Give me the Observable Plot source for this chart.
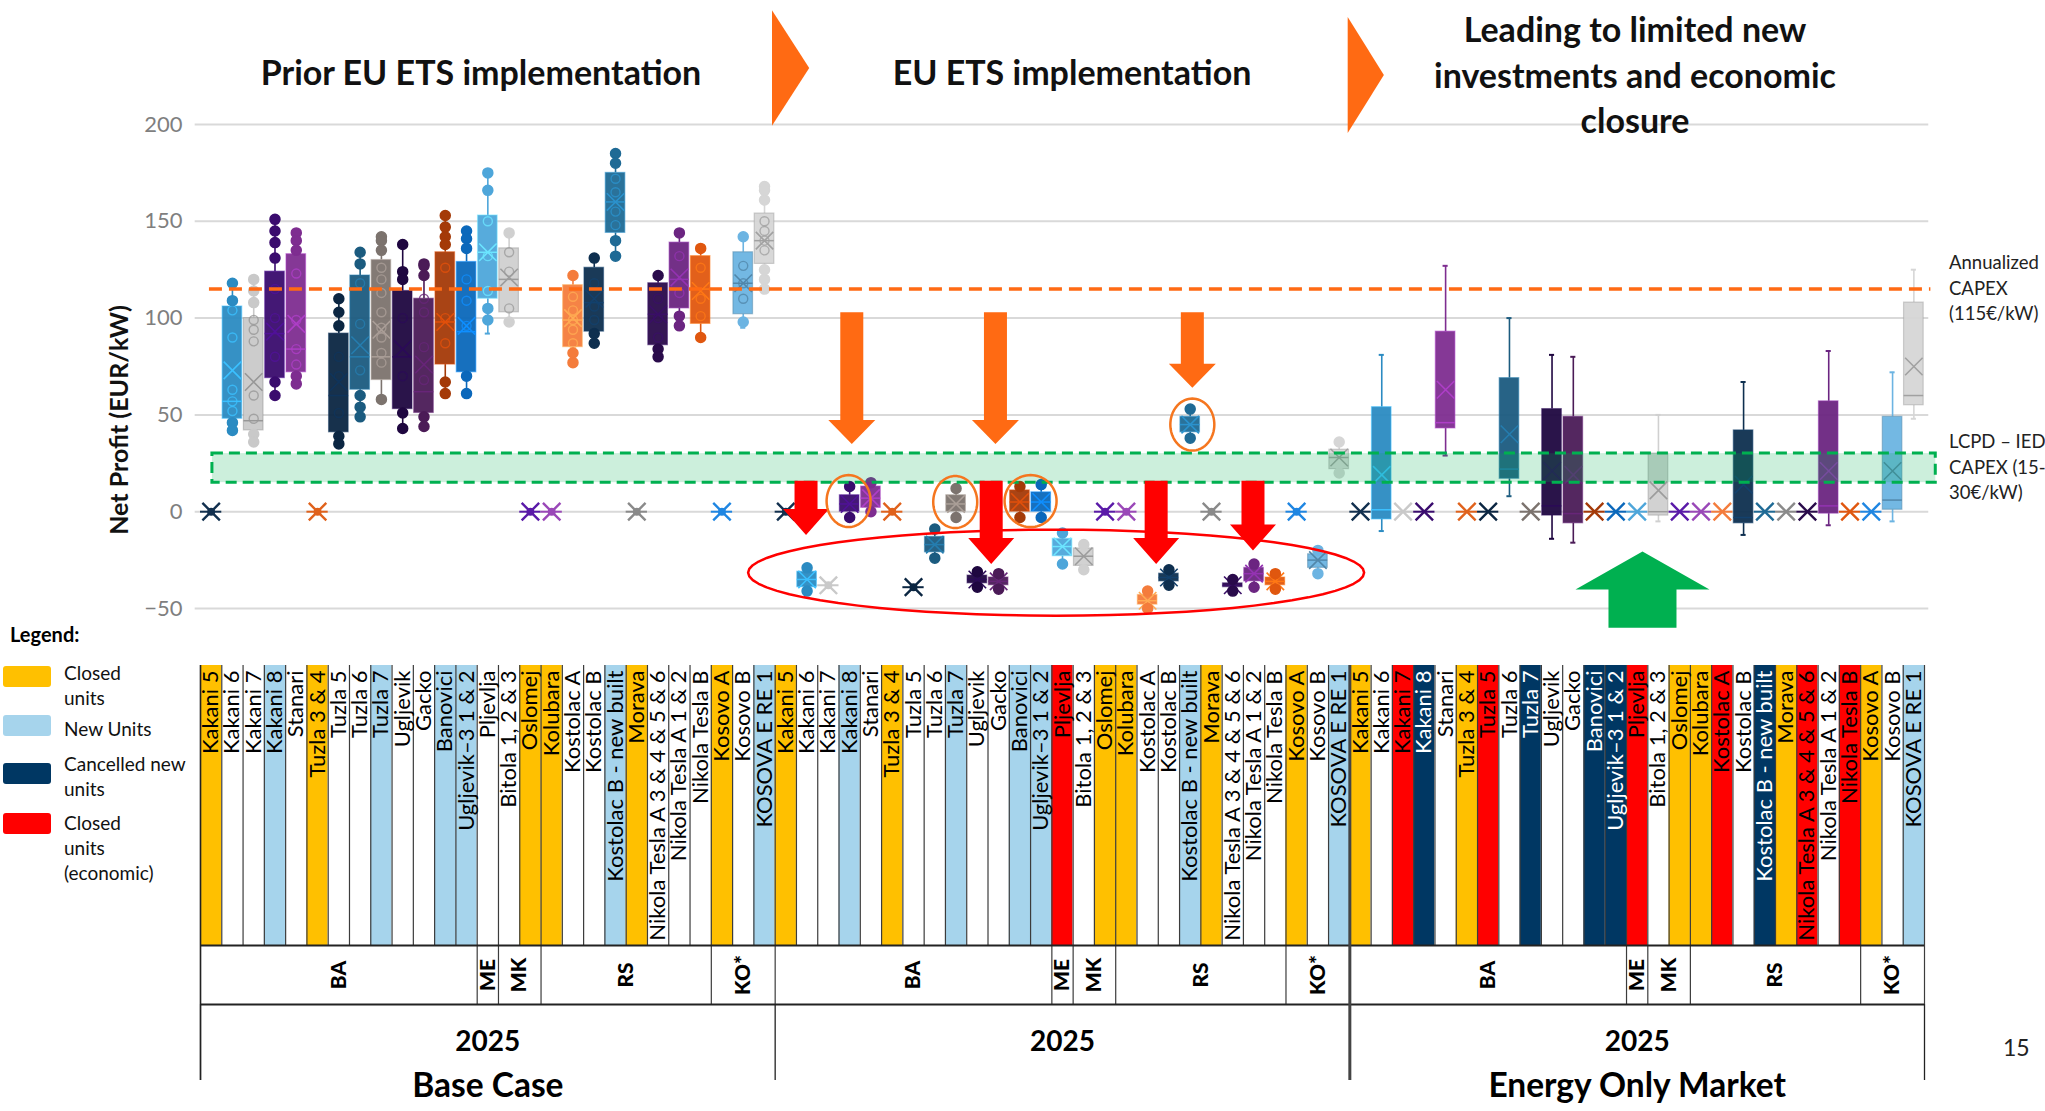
<!DOCTYPE html>
<html><head><meta charset="utf-8">
<script src="https://cdn.jsdelivr.net/npm/d3@7"></script>
<script src="https://cdn.jsdelivr.net/npm/@observablehq/plot@0.6"></script>
<style>
body{margin:0;background:#fff;}
#root{position:relative;width:2045px;height:1111px;overflow:hidden;font-family:Lato,"Open Sans",sans-serif;color:#000;background:#fff;}
.abs{position:absolute;white-space:nowrap;}
#root svg{position:absolute;left:0;}
g[aria-label="country"] text{letter-spacing:6px;}
</style></head><body><div id="root"></div>
<script>
// ---------------- DATA ----------------
const units = ["Kakani 5","Kakani 6","Kakani 7","Kakani 8","Stanari","Tuzla 3 & 4","Tuzla 5","Tuzla 6","Tuzla 7","Ugljevik","Gacko","Banovici","Ugljevik–3 1 & 2","Pljevlja","Bitola 1, 2 & 3","Oslomej","Kolubara","Kostolac A","Kostolac B","Kostolac B - new built","Morava","Nikola Tesla A 3 & 4 & 5 & 6","Nikola Tesla A 1 & 2","Nikola Tesla B","Kosovo A","Kosovo B","KOSOVA E RE 1"];
const unitColors = ["#12304f","#2b8bc2","#c9c9c9","#3a0c6e","#7e2d90","#e0621c","#0b2642","#1b5b7f","#7c736e","#1f0740","#4b1b57","#a43a08","#0b68bb","#4ea6da","#d0d0d0","#5a1aa8","#9a48b8","#f47c3c","#0e2f4f","#1f6a95","#8a8a8a","#2a0b4b","#6b2581","#e0570f","#1f86e2","#6cb4e2","#d6d6d6"];
const countries = ["BA","ME","MK","RS","KO*"];
const countrySpans = [13,1,2,8,3];
const statusBase = ["C","-","-","N","-","C","-","-","N","-","-","N","N","-","-","C","C","-","-","N","C","-","-","-","C","-","N"];
const statusEts  = ["C","-","-","N","-","C","-","-","N","-","-","N","N","E","-","C","C","-","-","N","C","-","-","-","C","-","N"];
const statusEom  = ["C","-","E","X","-","C","E","-","X","-","-","X","X","E","-","C","C","E","-","X","C","E","-","E","C","-","N"];
const statusNames = {C:["Closed","units"], N:["New Units"], X:["Cancelled new","units"], E:["Closed","units","(economic)"]};
const statusColors = {C:"#ffc000", N:"#a6d4ec", X:"#003763", E:"#ff0000", "-":"#ffffff"};
const panelHeaders = [["Prior EU ETS implementation"],["EU ETS implementation"],["Leading to limited new","investments and economic","closure"]];
const panelYears = ["2025","2025","2025"];
const scenarioNames = ["Base Case","","Energy Only Market"];
const yTicks = [-50,0,50,100,150,200];
const annualizedCapex = 115;
const iedBand = [15,30];
// box stats per unit: [min, q1, median, q3, max, mean]; a plain number = all years at that value
const basePanel = [0,[42,48,57,106,118,73],[36,42,47,100,120,67],[60,69,92,124,151,93],[66,72,84,133,144,97],0,[35,41,60,92,110,67],[49,63,80,122,134,86],[58,68,80,130,142,94],[43,53,80,114,138,84],[44,51,62,110,128,76],[61,76,98,134,153,98],[61,72,93,129,145,96],[92,110,134,153,175,134],[98,103,120,136,144,121],0,0,[77,85,99,117,122,100],[86,93,108,126,131,110],[132,144,160,175,183,160],0,[80,86,102,118,122,102],[96,105,120,139,144,121],[90,97,115,132,136,114],0,[95,102,118,134,142,118],[115,128,140,154,168,140]];
const basePoints = [[],[118,109,104,90,63,57,52,46,42],[120,114,108,99,94,88,60,48,40,36],[151,145,139,131,115,100,80,67,60],[144,140,135,123,99,84,76,70,66],[],[110,103,96,80,70,51,39,35],[134,128,118,97,73,60,54,49],[142,140,135,126,120,113,103,95,90,82,77,58],[138,124,120,100,70,51,43],[128,127,122,110,103,85,68,49,44],[153,147,142,138,126,100,87,67,61],[145,141,136,120,109,96,70,61],[175,166,150,132,114,105,99],[144,134,124,105,98],[],[],[122,111,104,99,94,87,82,77],[131,118,106,99,92,87],[185,180,172,165,155,148,140,132],[],[122,110,100,90,84,80],[144,132,113,101,96],[136,126,110,101,90],[],[142,127,118,110,98],[168,166,161,150,145,140,135,125,120,115]];
const etsPanel = [0,[-41,-39,-35,-31,-29,-35],-38,[-3,0,4,8.5,13,4],[0,2,7,13,15,7],0,-39,[-24,-21,-17,-13,-9,-17],[-3,0,4,8.5,12,4],[-39,-37,-35,-33,-31,-35],[-40,-38,-36,-34,-32,-36],[-3,0,5,11,13,5],[-3,0,5,10,14,5],[-27,-23,-18,-14,-11,-18],[-30,-28,-23,-19,-17,-23],0,0,[-50,-48,-46,-43,-41,-46],[-38,-36,-34,-32,-30,-34],[38,41,45,49,53,45],0,[-41,-39,-38,-37,-35,-38],[-39,-36,-32,-29,-27,-32],[-40,-38,-36,-34,-32,-36],0,[-32,-29,-25,-22,-20,-25],[20,22,28,32,36,28]];
const eomPanel = [0,[-10,-4,1,54,81,19],0,0,[29,43,46,93,127,63],0,0,[8,17,22,69,100,40],0,[-14,-2,3,53,81,21],[-16,-6,-1,49,80,19],0,0,0,[-5,-2,0,30,50,11],0,0,0,[-12,-6,-3,42,67,14],0,0,0,[-7,-1,3,57,83,21],0,0,[-5,1,6,49,72,21],[48,55,60,108,125,75]];
// annotations (x in unit columns across the three panels, y in EUR/kW)
const orangeArrows = [{x:30.6,top:103,tip:35},{x:37.35,top:103,tip:35},{x:46.6,top:103,tip:64}];
const redArrows = [{x:28.45,top:16,tip:-12},{x:37.15,top:16,tip:-27},{x:44.9,top:16,tip:-27},{x:49.45,top:16,tip:-20}];
const greenArrows = [{x:67.75,top:-60,tip:-20.6}];
const orangeRings = [{x:30.45,y:5.5,rx:22,ry:26},{x:35.46,y:5,rx:22,ry:26},{x:39.0,y:5.5,rx:26,ry:26},{x:46.6,y:45,rx:22,ry:26}];
const redRings = [{x:40.2,y:-31.5,rx:308,ry:43}];
const chevrons = [{x0:26.85,x1:28.6,top:259,bottom:199.4},{x0:53.9,x1:55.6,top:255.5,bottom:195.6}];

// ---------------- BUILD ----------------
const root = document.getElementById("root");
const colPx = 1724/81, valPx = 484/250;
const hw = 0.46;
function inner(c){ const h = d3.hsl(c); return h.l > 0.6 ? d3.color(c).darker(0.8).formatHex() : d3.color(c).brighter(0.9).formatHex(); }

const panels = [basePanel, etsPanel, eomPanel];
const boxes = [], markers = [], filledPts = [], hollowPts = [];
panels.forEach((pan, p) => pan.forEach((v, i) => {
  const x = 27*p + i + 0.5, color = unitColors[i];
  if (Array.isArray(v)) {
    const b = {p, i, x, color, min:v[0], q1:v[1], med:v[2], q3:v[3], max:v[4], mean:v[5]};
    boxes.push(b);
    if (p === 0) basePoints[i].forEach(y => (y > b.q3 || y < b.q1 ? filledPts : hollowPts).push({x, y, color}));
    if (p === 1) { filledPts.push({x, y:b.min, color}); filledPts.push({x, y:b.max, color}); }
  } else markers.push({p, i, x, color, v});
}));

function arrowPoly(id, a, sH, hH, hHeight){
  const dir = a.tip < a.top ? -1 : 1;
  const neck = a.tip - dir*hHeight;
  return [[a.x-sH,a.top],[a.x+sH,a.top],[a.x+sH,neck],[a.x+hH,neck],[a.x,a.tip],[a.x-hH,neck],[a.x-sH,neck]].map(([x,y])=>({id,x,y}));
}
const orangePolys = orangeArrows.flatMap((a,k)=>arrowPoly("o"+k,a,11.5/colPx,23.5/colPx,24/valPx));
const redPolys = redArrows.flatMap((a,k)=>arrowPoly("r"+k,a,11.5/colPx,23/colPx,26/valPx));
const greenPolys = greenArrows.flatMap((a,k)=>arrowPoly("g"+k,a,34/colPx,67/colPx,38/valPx));
const chevPolys = chevrons.flatMap((c,k)=>[[c.x0,c.top],[c.x1,(c.top+c.bottom)/2],[c.x0,c.bottom]].map(([x,y])=>({id:"c"+k,x,y})));
function ring(id, e){ return d3.range(73).map(k=>{const t=k/72*2*Math.PI; return {id, x:e.x+e.rx/colPx*Math.cos(t), y:e.y+e.ry/valPx*Math.sin(t)};}); }
const orangeRingPts = orangeRings.flatMap((e,k)=>ring("or"+k,e));
const redRingPts = redRings.flatMap((e,k)=>ring("rr"+k,e));

const main = Plot.plot({
  width:2045, height:650,
  marginLeft:200, marginRight:121, marginTop:124, marginBottom:42,
  x:{domain:[0,81], range:[200,1924], axis:null},
  y:{domain:[-50,200], range:[608,124]},
  color:{type:"identity"},
  style:{fontFamily:"Lato, sans-serif", color:"#7f7f7f", background:"transparent", overflow:"visible"},
  marks:[
    Plot.ruleY(yTicks,{x1:-0.25,x2:81.2,stroke:"#d9d9d9",strokeWidth:2}),
    Plot.axisY(yTicks,{tickSize:0,tickPadding:18,fontSize:22,label:null,fill:"#7f7f7f"}),
    // whiskers
    Plot.ruleX(boxes,{x:"x",y1:"q3",y2:"max",stroke:"color",strokeWidth:1.6}),
    Plot.ruleX(boxes,{x:"x",y1:"min",y2:"q1",stroke:"color",strokeWidth:1.6}),
    Plot.ruleY(boxes,{y:"max",x1:d=>d.x-0.12,x2:d=>d.x+0.12,stroke:"color",strokeWidth:2}),
    Plot.ruleY(boxes,{y:"min",x1:d=>d.x-0.12,x2:d=>d.x+0.12,stroke:"color",strokeWidth:2}),
    // boxes
    Plot.rect(boxes,{x1:d=>d.x-hw,x2:d=>d.x+hw,y1:"q1",y2:"q3",fill:"color",fillOpacity:0.95,stroke:d=>inner(d.color),strokeOpacity:0.5,strokeWidth:1.2}),
    Plot.ruleY(boxes,{y:"med",x1:d=>d.x-hw,x2:d=>d.x+hw,stroke:d=>inner(d.color),strokeWidth:1.5}),
    Plot.dot(boxes,{x:"x",y:"mean",symbol:"times",r:8,stroke:d=>inner(d.color),strokeWidth:1.6}),
    // yearly points
    Plot.dot(hollowPts,{x:"x",y:"y",r:4.5,fill:"none",stroke:d=>inner(d.color),strokeWidth:1.4,strokeOpacity:0.8}),
    Plot.dot(filledPts,{x:"x",y:"y",r:5,fill:"color",stroke:"color"}),
    // units with all years at one value
    Plot.ruleY(markers,{y:"v",x1:d=>d.x-0.5,x2:d=>d.x+0.5,stroke:"color",strokeWidth:2}),
    Plot.dot(markers,{x:"x",y:"v",symbol:"times",r:8,stroke:"color",strokeWidth:2.4}),
    Plot.dot(markers.filter(d=>d.p<2),{x:"x",y:"v",r:4,fill:"color"}),
    // reference band and line
    Plot.rect([iedBand],{x1:0.56,x2:81.53,y1:d=>d[0],y2:d=>d[1],fill:"#00b050",fillOpacity:0.2,stroke:"#00b050",strokeWidth:3,strokeDasharray:"11,6"}),
    Plot.ruleY([annualizedCapex],{x1:0.42,x2:81.3,stroke:"#ff6a13",strokeWidth:3.5,strokeDasharray:"13,7"}),
    // annotations
    Plot.line(orangePolys,{x:"x",y:"y",z:"id",curve:"linear-closed",fill:"#ff6a13",stroke:"none"}),
    Plot.line(redPolys,{x:"x",y:"y",z:"id",curve:"linear-closed",fill:"#ff0000",stroke:"none"}),
    Plot.line(greenPolys,{x:"x",y:"y",z:"id",curve:"linear-closed",fill:"#00b050",stroke:"none"}),
    Plot.line(chevPolys,{x:"x",y:"y",z:"id",curve:"linear-closed",fill:"#ff6a13",stroke:"none"}),
    Plot.line(orangeRingPts,{x:"x",y:"y",z:"id",curve:"linear-closed",stroke:"#f5761f",strokeWidth:2.5,fill:"none"}),
    Plot.line(redRingPts,{x:"x",y:"y",z:"id",curve:"linear-closed",stroke:"#ff0000",strokeWidth:2.5,fill:"none"})
  ]
});
main.style.top = "0px";
root.appendChild(main);

// ---------------- TABLE ----------------
const statuses = [statusBase, statusEts, statusEom];
const cells = [];
statuses.forEach((st,p)=>st.forEach((s,i)=>cells.push({x1:27*p+i, x2:27*p+i+1, fill:statusColors[s], tc: s==="X" ? "#ffffff" : "#000000", name:units[i]})));
const cellEdges = d3.range(82);
const groups = [];
[0,1,2].forEach(p=>{ let s = 27*p; countries.forEach((c,k)=>{ groups.push({x1:s, x2:s+countrySpans[k], name:c}); s += countrySpans[k]; }); });
const groupEdges = [...new Set(groups.flatMap(g=>[g.x1,g.x2]))];
const panelIdx = [0,1,2].map(p=>({p, x:27*p+13.5, year:panelYears[p], scen:scenarioNames[p]}));

const table = Plot.plot({
  width:2045, height:446,
  marginLeft:200, marginRight:121, marginTop:0, marginBottom:0,
  x:{domain:[0,81], range:[200,1924], axis:null},
  y:{domain:[0,446], range:[0,446], axis:null},
  color:{type:"identity"},
  style:{fontFamily:"Lato, sans-serif", background:"transparent", overflow:"visible"},
  marks:[
    Plot.rect(cells,{x1:"x1",x2:"x2",y1:0,y2:280,fill:"fill"}),
    Plot.ruleX(cellEdges,{y1:0,y2:280,stroke:"#3c3c3c",strokeWidth:1.2}),
    Plot.text(cells,{x:d=>d.x1+0.5,y:5,text:"name",rotate:-90,textAnchor:"end",fontSize:22,fill:"tc"}),
    Plot.ruleX(groupEdges,{y1:280,y2:339,stroke:"#3c3c3c",strokeWidth:1.2}),
    Plot.text(groups,{x:d=>(d.x1+d.x2)/2,y:309.5,text:"name",rotate:-90,fontSize:21,fontWeight:"900",fill:"#000",ariaLabel:"country"}),
    Plot.ruleY([280,339],{x1:0,x2:81,stroke:"#222",strokeWidth:2.2}),
    Plot.ruleX([0,27,54,81],{y1:339,y2:415,stroke:"#222",strokeWidth:1.3}),
    Plot.ruleX([54],{y1:0,y2:415,stroke:"#444",strokeWidth:3}),
    Plot.ruleX([0],{y1:0,y2:415,stroke:"#222",strokeWidth:1.5}),
    Plot.text(panelIdx,{x:"x",y:377,text:"year",fontSize:28,fontWeight:"bold",fill:"#000"}),
    Plot.text(panelIdx,{x:"x",y:421,text:"scen",fontSize:33.5,fontWeight:"bold",fill:"#000"})
  ]
});
table.style.top = "665px";
root.appendChild(table);

// ---------------- TEXT OVERLAYS ----------------
function txt(s,o){ const d=document.createElement("div"); d.className="abs"; d.innerHTML=s; Object.assign(d.style,o); root.appendChild(d); return d; }
const headerPos = [[481,72],[1072,72],[1635,74]];
panelHeaders.forEach((h,k)=>txt(h.join("<br>"),{left:headerPos[k][0]+"px",top:headerPos[k][1]+"px",transform:"translate(-50%,-50%)",fontWeight:"700",fontSize:"34px",lineHeight:"45.5px",textAlign:"center",color:"#111"}));
txt("Net Profit (EUR/kW)",{left:"118px",top:"420px",transform:"translate(-50%,-50%) rotate(-90deg)",fontWeight:"700",fontSize:"25px",color:"#111"});
txt("Annualized<br>CAPEX<br>(115€/kW)",{left:"1949px",top:"250px",fontSize:"18.5px",lineHeight:"25.5px",color:"#222"});
txt("LCPD – IED<br>CAPEX (15-<br>30€/kW)",{left:"1949px",top:"429px",fontSize:"18.5px",lineHeight:"25.5px",color:"#222"});
txt("15",{left:"2003px",top:"1033px",fontSize:"23px",color:"#222"});
// legend
txt("Legend:",{left:"10px",top:"622px",fontWeight:"700",fontSize:"20px",color:"#000"});
const legTops = {C:666, N:715, X:763, E:813};
const legText = {C:660, N:716, X:751, E:810};
["C","N","X","E"].forEach(s=>{
  const sw=document.createElement("div"); sw.className="abs";
  Object.assign(sw.style,{left:"3px",top:legTops[s]+"px",width:"48px",height:"21px",borderRadius:"3px",background:statusColors[s]});
  root.appendChild(sw);
  txt(statusNames[s].join("<br>"),{left:"64px",top:legText[s]+"px",fontSize:"19px",lineHeight:"25px",color:"#111"});
});
</script></body></html>
